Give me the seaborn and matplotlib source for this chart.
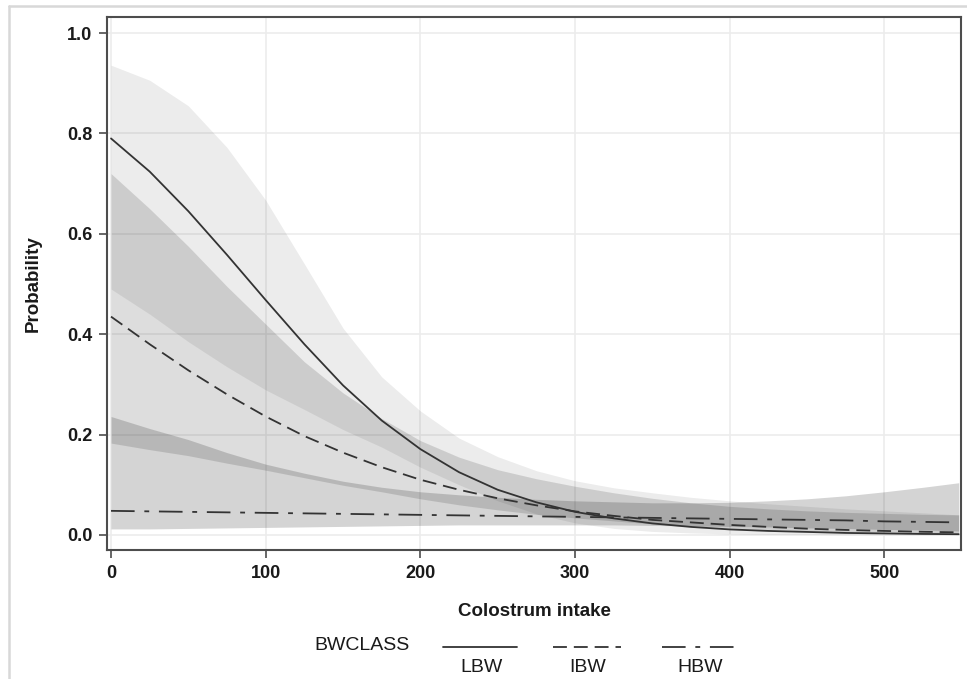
import matplotlib
matplotlib.use("Agg")
import matplotlib.pyplot as plt
from matplotlib.lines import Line2D
import seaborn as sns
import pandas as pd

# ---- data ----
x_vals = [0, 25, 50, 75, 100, 125, 150, 175, 200, 225, 250, 275, 300, 325,
          350, 375, 400, 425, 450, 475, 500, 525, 548]

lbw_mean = [0.790, 0.724, 0.645, 0.558, 0.468, 0.380, 0.298, 0.228, 0.171, 0.125,
            0.090, 0.065, 0.046, 0.033, 0.023, 0.016, 0.011, 0.008, 0.006, 0.004,
            0.003, 0.002, 0.0015]
lbw_upper = [0.936, 0.906, 0.855, 0.772, 0.667, 0.540, 0.412, 0.315, 0.247, 0.193,
             0.156, 0.128, 0.108, 0.094, 0.084, 0.075, 0.068, 0.062, 0.057, 0.052,
             0.048, 0.044, 0.040]
lbw_lower = [0.490, 0.440, 0.385, 0.335, 0.289, 0.250, 0.210, 0.175, 0.135, 0.100,
             0.068, 0.042, 0.024, 0.013, 0.007, 0.004, 0.002, 0.001, 0.001, 0.0005,
             0.0003, 0.0002, 0.0001]

ibw_mean = [0.435, 0.380, 0.328, 0.280, 0.236, 0.197, 0.164, 0.135, 0.110, 0.090,
            0.073, 0.059, 0.047, 0.038, 0.030, 0.025, 0.020, 0.016, 0.0125, 0.010,
            0.008, 0.0063, 0.0052]
ibw_upper = [0.720, 0.650, 0.575, 0.495, 0.420, 0.345, 0.283, 0.232, 0.188, 0.155,
             0.130, 0.112, 0.097, 0.084, 0.073, 0.064, 0.057, 0.052, 0.048, 0.045,
             0.043, 0.041, 0.040]
ibw_lower = [0.183, 0.170, 0.158, 0.143, 0.129, 0.114, 0.099, 0.086, 0.072, 0.060,
             0.050, 0.041, 0.034, 0.028, 0.022, 0.018, 0.014, 0.011, 0.008, 0.006,
             0.005, 0.003, 0.002]

hbw_mean = [0.048, 0.047, 0.046, 0.045, 0.044, 0.043, 0.042, 0.041, 0.040, 0.039,
            0.038, 0.037, 0.036, 0.035, 0.034, 0.033, 0.032, 0.031, 0.030, 0.029,
            0.027, 0.026, 0.025]
hbw_upper = [0.236, 0.212, 0.190, 0.164, 0.141, 0.123, 0.107, 0.095, 0.086, 0.080,
             0.075, 0.071, 0.068, 0.066, 0.064, 0.064, 0.065, 0.068, 0.072, 0.078,
             0.086, 0.095, 0.104]
hbw_lower = [0.012, 0.012, 0.013, 0.014, 0.015, 0.016, 0.017, 0.018, 0.019, 0.020,
             0.020, 0.020, 0.020, 0.020, 0.019, 0.018, 0.017, 0.016, 0.014, 0.013,
             0.011, 0.010, 0.008]

classes = ["LBW", "IBW", "HBW"]
x_ticks = [0, 100, 200, 300, 400, 500]
y_ticks = [0.0, 0.2, 0.4, 0.6, 0.8, 1.0]
x_title = "Colostrum intake"
y_title = "Probability"
legend_title = "BWCLASS"

# ---- styling ----
sns.set_theme(style="white")
plt.rcParams["font.family"] = ["Liberation Sans Narrow", "Liberation Sans", "DejaVu Sans"]
plt.rcParams["lines.scale_dashes"] = False

W, H = 967, 679
fig = plt.figure(figsize=(W / 100, H / 100), dpi=100)
fig.patch.set_facecolor("white")

def fx(px):
    return px / W

def fy(py):
    return 1 - py / H

ax_l, ax_r, ax_t, ax_b = 107, 961, 17, 550
ax = fig.add_axes([fx(ax_l), fy(ax_b), fx(ax_r) - fx(ax_l), (ax_b - ax_t) / H])

line_col = "#333333"
styles = {
    "LBW": dict(dashes=None),
    "IBW": dict(dashes=(10, 5)),
    "HBW": dict(dashes=(17, 7, 3.5, 7)),
}
band_alpha = {"LBW": 0.075, "IBW": 0.135, "HBW": 0.17}

means = {"LBW": lbw_mean, "IBW": ibw_mean, "HBW": hbw_mean}
uppers = {"LBW": lbw_upper, "IBW": ibw_upper, "HBW": hbw_upper}
lowers = {"LBW": lbw_lower, "IBW": ibw_lower, "HBW": hbw_lower}

# grid
for xt in x_ticks:
    ax.axvline(xt, color="#ececec", lw=1.2, zorder=0)
for yt in y_ticks:
    ax.axhline(yt, color="#ececec", lw=1.2, zorder=0)

# bands
for c in classes:
    ax.fill_between(x_vals, lowers[c], uppers[c], color="black",
                    alpha=band_alpha[c], lw=0, zorder=1)

# mean curves via seaborn
for c in classes:
    df = pd.DataFrame({"x": x_vals, "y": means[c]})
    sns.lineplot(data=df, x="x", y="y", ax=ax, color=line_col, lw=1.3,
                 zorder=3, legend=False)
    ln = ax.lines[-1]
    if styles[c]["dashes"] is not None:
        ln.set_dashes(styles[c]["dashes"])

ax.set_xlim(-2.6, 549.5)
ax.set_ylim(-0.030, 1.032)
ax.set_xticks(x_ticks)
ax.set_yticks(y_ticks)
ax.set_xticklabels([str(t) for t in x_ticks])
ax.set_yticklabels([f"{t:.1f}" for t in y_ticks])

for sp in ax.spines.values():
    sp.set_visible(True)
    sp.set_color("#4d4d4d")
    sp.set_linewidth(1.5)

ax.tick_params(axis="both", which="major", direction="out", length=5.5, width=1.2,
               color="#4d4d4d", labelsize=13, labelcolor="#1a1a1a", pad=5,
               bottom=True, left=True)
for lab in ax.get_xticklabels() + ax.get_yticklabels():
    lab.set_fontweight("bold")

ax.set_xlabel(x_title, fontsize=13.5, color="#1a1a1a", fontweight="bold")
ax.set_ylabel(y_title, fontsize=13.5, color="#1a1a1a", fontweight="bold")
ax.xaxis.label.set_va("center")
ax.yaxis.label.set_va("center")
ax.xaxis.set_label_coords(0.5, (ax_b - 612) / (ax_b - ax_t))
ax.yaxis.set_label_coords((33 - ax_l) / (ax_r - ax_l), 0.5)

# outer light frame
fig.add_artist(Line2D([fx(9), fx(9)], [fy(6), 0], transform=fig.transFigure,
                      color="#d8d8d8", lw=1.8))
fig.add_artist(Line2D([fx(9), 1], [fy(6), fy(6)], transform=fig.transFigure,
                      color="#d8d8d8", lw=1.8))

# SAS-style legend below the plot
fig.text(fx(314), fy(646), legend_title, fontsize=14, color="#1a1a1a",
         ha="left", va="center", family=["Liberation Sans", "DejaVu Sans"])
leg_pos = {"LBW": (443, 517, 482), "IBW": (553, 621, 588), "HBW": (662, 735, 700)}
for c in classes:
    x1, x2, xc = leg_pos[c]
    ln = Line2D([fx(x1), fx(x2)], [fy(647), fy(647)], transform=fig.transFigure,
                color=line_col, lw=1.3)
    if styles[c]["dashes"] is not None:
        ln.set_dashes(styles[c]["dashes"])
    fig.add_artist(ln)
    fig.text(fx(xc), fy(667), c, fontsize=14, color="#1a1a1a", ha="center",
             va="center", family=["Liberation Sans", "DejaVu Sans"])

fig.savefig("out.png", dpi=100, facecolor="white")
